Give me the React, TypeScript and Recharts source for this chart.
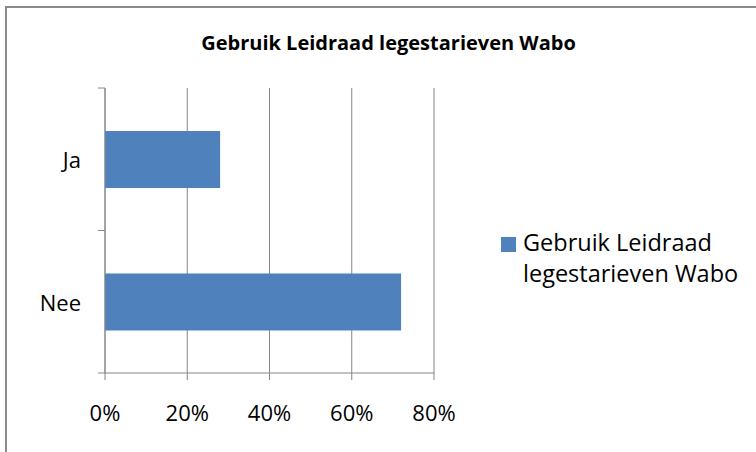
import React from "react";
import { BarChart, Bar, XAxis, YAxis, CartesianGrid } from "recharts";

const categories = ["Ja", "Nee"];
const values = [0.28, 0.72];
const xTicks = [0, 0.2, 0.4, 0.6, 0.8];
const seriesName = "Gebruik Leidraad legestarieven Wabo";
const legendLines = ["Gebruik Leidraad", "legestarieven Wabo"];
const title = "Gebruik Leidraad legestarieven Wabo";

const data = categories.map((c, i) => ({ name: c, value: values[i] }));

const FONT = "'Open Sans', 'Noto Sans', sans-serif";
const AXIS = "#868686";
const BLUE = "#4F81BD";

const CatTick = (props: any) => {
  const { x, y, payload } = props;
  const off = payload && typeof payload.offset === "number" ? payload.offset : 71;
  const ax = x;
  return (
    <g>
      <line x1={ax - 7} x2={ax} y1={y - off} y2={y - off} stroke={AXIS} />
      <line x1={ax - 7} x2={ax} y1={y + off} y2={y + off} stroke={AXIS} />
      <text x={ax - 24} y={y} textAnchor="end" dominantBaseline="central" fill="#000" fontSize={22} fontFamily={FONT}>
        {payload.value}
      </text>
    </g>
  );
};

export default function App() {
  return (
    <div style={{ position: "fixed", left: 0, top: 0, width: 756, height: 452, background: "#fff", overflow: "hidden" }}>
      <div style={{ position: "absolute", left: 5, top: 6, width: 800, height: 500, borderLeft: "2px solid #8a8a8a", borderTop: "2px solid #8a8a8a" }} />
      <div style={{ position: "absolute", left: 0, width: 777, top: 29, textAlign: "center", fontFamily: FONT, fontWeight: 700, fontSize: 20, color: "#000", whiteSpace: "nowrap" }}>
        {title}
      </div>
      <div style={{ position: "absolute", left: 0, top: 0 }}>
        <BarChart width={756} height={452} data={data} layout="vertical" margin={{ top: 88, right: 322, bottom: 49, left: 45 }}>
          <CartesianGrid horizontal={false} vertical={true} stroke={AXIS} strokeDasharray="" />
          <XAxis
            type="number"
            domain={[0, 0.8]}
            ticks={xTicks}
            tickFormatter={(v: number) => `${Math.round(v * 100)}%`}
            axisLine={{ stroke: AXIS }}
            tickLine={{ stroke: AXIS }}
            tickSize={7}
            tickMargin={25}
            height={30}
            tick={{ fill: "#000", fontSize: 22, fontFamily: FONT }}
          />
          <YAxis
            type="category"
            dataKey="name"
            width={60}
            axisLine={{ stroke: AXIS }}
            tickLine={false}
            tickSize={0}
            tickMargin={0}
            tick={<CatTick />}
          />
          <Bar dataKey="value" name={seriesName} fill={BLUE} barSize={57} isAnimationActive={false} />
        </BarChart>
      </div>
      <div style={{ position: "absolute", left: 501, top: 227, display: "flex", alignItems: "flex-start", fontFamily: FONT, fontSize: 23.5, color: "#000", lineHeight: "31px", whiteSpace: "nowrap" }}>
        <div style={{ width: 15, height: 15, background: BLUE, marginTop: 10, marginRight: 7, flex: "none" }} />
        <div>
          {legendLines[0]}
          <br />
          {legendLines[1]}
        </div>
      </div>
    </div>
  );
}
